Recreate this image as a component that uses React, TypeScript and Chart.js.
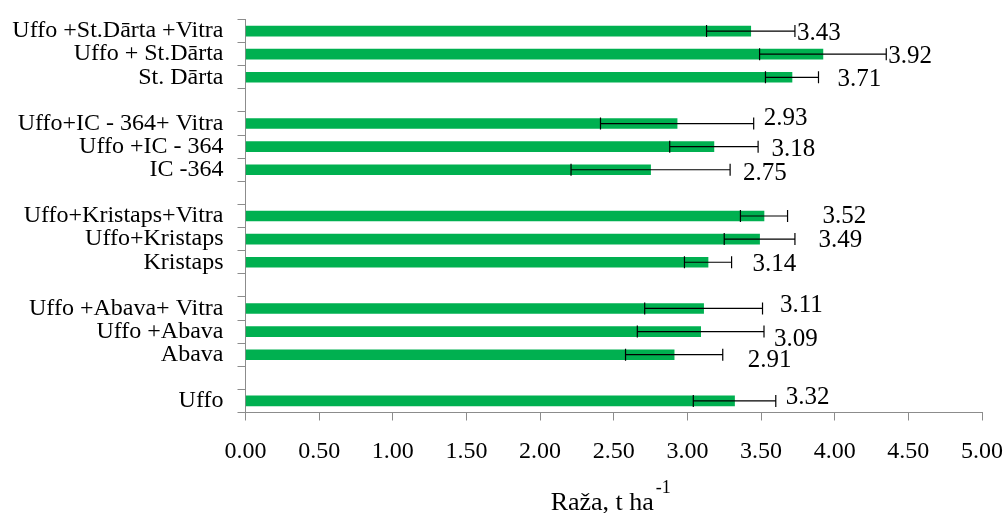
import React, { useEffect, useRef } from "react";
import { Chart, registerables } from "chart.js";

Chart.register(...registerables);

const categories = [
  "Uffo +St.Dārta +Vitra",
  "Uffo + St.Dārta",
  "St. Dārta",
  "",
  "Uffo+IC - 364+ Vitra",
  "Uffo +IC - 364",
  "IC -364",
  "",
  "Uffo+Kristaps+Vitra",
  "Uffo+Kristaps",
  "Kristaps",
  "",
  "Uffo +Abava+ Vitra",
  "Uffo +Abava",
  "Abava",
  "",
  "Uffo",
];

const yields: (number | null)[] = [
  3.43, 3.92, 3.71, null, 2.93, 3.18, 2.75, null, 3.52, 3.49, 3.14, null, 3.11, 3.09, 2.91, null, 3.32,
];

const errors: (number | null)[] = [
  0.3, 0.43, 0.18, null, 0.52, 0.3, 0.54, null, 0.16, 0.24, 0.16, null, 0.4, 0.43, 0.33, null, 0.28,
];

// label nudges (px) relative to whisker end / bar centre
const labelDx = [2, 2, 19, 0, 10, 13.5, 13, 0, 35, 23.5, 21, 0, 17.5, 10, 25, 0, 10];
const labelDy = [0, 0, 0, 0, -7, 1, 2, 0, -2, -1, 0, 0, -5, 5.5, 4, 0, -5];

const xMin = 0;
const xMax = 5;
const xStep = 0.5;

const titleMain = "Raža, t ha";
const titleSup = "-1";

const FONT = '"Liberation Serif", "Times New Roman", serif';
const AXIS_COLOR = "#8c8c8c";
const BAR_COLOR = "#00B050";

const errorBarPlugin = {
  id: "errorBars",
  afterDatasetsDraw(chart: any) {
    const ctx = chart.ctx;
    const meta = chart.getDatasetMeta(0);
    const xs = chart.scales.x;
    ctx.save();
    ctx.strokeStyle = "#000";
    ctx.lineWidth = 1.2;
    yields.forEach((v, i) => {
      const e = errors[i];
      if (v == null || e == null) return;
      const el = meta.data[i];
      const y = el.y;
      const x1 = xs.getPixelForValue(v - e);
      const x2 = xs.getPixelForValue(v + e);
      ctx.beginPath();
      ctx.moveTo(x1, y);
      ctx.lineTo(x2, y);
      ctx.moveTo(x1, y - 6);
      ctx.lineTo(x1, y + 6);
      ctx.moveTo(x2, y - 6);
      ctx.lineTo(x2, y + 6);
      ctx.stroke();
    });
    ctx.fillStyle = "#000";
    ctx.font = `25px ${FONT}`;
    ctx.textAlign = "left";
    ctx.textBaseline = "alphabetic";
    yields.forEach((v, i) => {
      const e = errors[i] ?? 0;
      if (v == null) return;
      const el = meta.data[i];
      const x = xs.getPixelForValue(v + e) + labelDx[i];
      const y = el.y + labelDy[i] + 8.5;
      ctx.fillText(v.toFixed(2), x, y);
    });
    ctx.restore();
  },
  afterDraw(chart: any) {
    const ctx = chart.ctx;
    const area = chart.chartArea;
    ctx.save();
    ctx.fillStyle = "#000";
    ctx.textBaseline = "alphabetic";
    ctx.textAlign = "left";
    ctx.font = `26px ${FONT}`;
    const w1 = ctx.measureText(titleMain).width;
    ctx.font = `18px ${FONT}`;
    const w2 = ctx.measureText(titleSup).width;
    const gap = 2;
    const total = w1 + gap + w2;
    const cx = (area.left + area.right) / 2 - 3;
    const x0 = cx - total / 2;
    ctx.font = `26px ${FONT}`;
    ctx.fillText(titleMain, x0, 510);
    ctx.font = `18px ${FONT}`;
    ctx.fillText(titleSup, x0 + w1 + gap, 493);
    ctx.restore();
  },
};

export default function App() {
  const ref = useRef<HTMLCanvasElement | null>(null);

  useEffect(() => {
    document.body.style.margin = "0";
    if (!ref.current) return;
    const chart = new Chart(ref.current, {
      type: "bar",
      data: {
        labels: categories,
        datasets: [
          {
            data: yields,
            backgroundColor: BAR_COLOR,
            borderWidth: 0,
            barThickness: 10,
          },
        ],
      },
      options: {
        indexAxis: "y",
        responsive: false,
        animation: false,
        layout: { padding: { top: 19.5, right: 23, left: 0, bottom: 0 } },
        plugins: {
          legend: { display: false },
          tooltip: { enabled: false },
          title: { display: false },
        },
        scales: {
          x: {
            min: xMin,
            max: xMax,
            afterFit(scale: any) {
              scale.height = 100.5;
              scale.paddingLeft = 0;
              scale.paddingRight = 0;
            },
            ticks: {
              stepSize: xStep,
              autoSkip: false,
              maxRotation: 0,
              color: "#000",
              padding: 17,
              font: { family: FONT, size: 24 },
              callback: (v: any) => Number(v).toFixed(2),
            },
            grid: {
              drawOnChartArea: false,
              drawTicks: true,
              tickLength: 8,
              color: AXIS_COLOR,
            },
            border: { display: true, color: AXIS_COLOR, width: 1 },
          },
          y: {
            afterFit(scale: any) {
              scale.width = 245.5;
              scale.paddingTop = 0;
              scale.paddingBottom = 0;
            },
            ticks: {
              autoSkip: false,
              color: "#000",
              padding: 14,
              font: { family: FONT, size: 24 },
            },
            grid: {
              drawOnChartArea: false,
              drawTicks: true,
              tickLength: 8,
              color: AXIS_COLOR,
              offset: true,
            },
            border: { display: true, color: AXIS_COLOR, width: 1 },
          },
        },
      },
      plugins: [errorBarPlugin],
    });
    return () => chart.destroy();
  }, []);

  return <canvas ref={ref} width={1005} height={513} style={{ display: "block" }} />;
}
